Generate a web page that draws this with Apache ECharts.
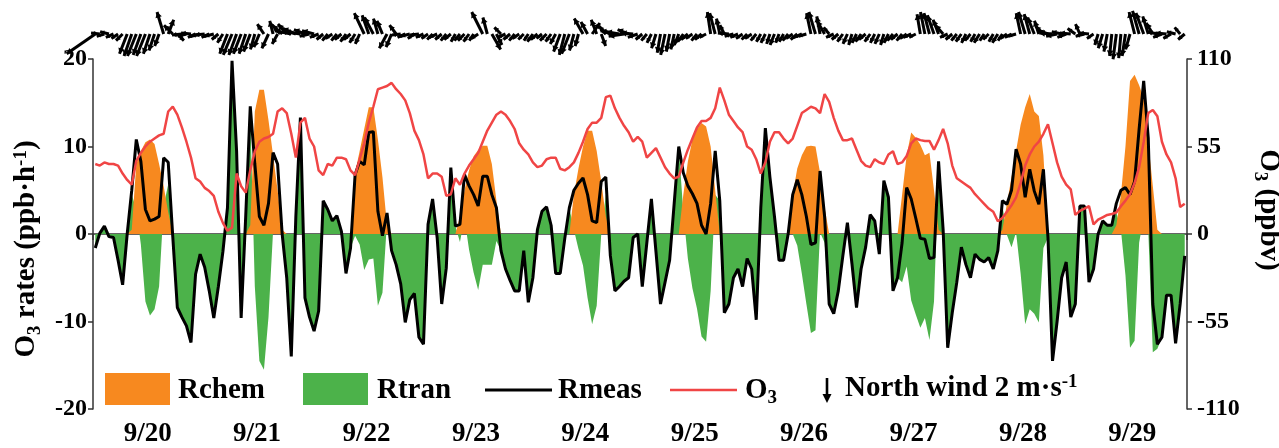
<!DOCTYPE html>
<html>
<head>
<meta charset="utf-8">
<title>O3 budget 9/20 - 9/29</title>
<script src="https://cdn.jsdelivr.net/npm/echarts/dist/echarts.min.js"></script>
<style>
html, body { margin: 0; padding: 0; background: #fff; }
#main { width: 1279px; height: 448px; }
</style>
</head>
<body>
<div id="main"></div>
<script>
// day labels (one band of 24 hours each)
var days = ['9/20', '9/21', '9/22', '9/23', '9/24', '9/25', '9/26', '9/27', '9/28', '9/29'];

// hourly values, one row per day (ppb/h)
var rmeas = [
  -1.6, 0.1, 0.9, -0.3, -0.4, -3.0, -5.8, 0, 5, 10.8, 8.3, 2.8, 1.5, 1.7, 2.0, 8.7, 8.2, -0.3, -8.4, -9.5, -10.5, -12.4, -4.6, -2.3,
  -3.8, -6.5, -9.6, -6, -2, 3, 19.8, 9.5, -9.6, 2, 14.6, 8, 2, 1, 3.5, 9.3, 8, 0, -5, -14, 2, 13.3, -7.3, -9.5,
  -11.1, -8.8, 3.8, 2.8, 1.5, 2.1, 0.3, -4.5, -1.6, 6.8, 8.3, 7.9, 11.6, 11.7, 2.6, -0.2, 2.4, -1.9, -3.5, -5.7, -10.1, -7.5, -6.8, -11.8,
  -12.6, 1.1, 4, -0.4, -8, -3.9, 7.6, 0.9, 1.1, 6.8, 5.5, 4.5, 3.2, 6.6, 6.6, 4.5, 3, -1.9, -4, -5.3, -6.5, -6.5, -1.9, -7.8,
  -5, 0.5, 2.6, 3.1, 1, -4.5, -4.5, -0.5, 3, 5, 5.8, 6.4, 4.5, 1.5, 1.3, 6, 6.5, -2.5, -6.5, -6, -5.4, -5, -0.4, 0,
  -6, -1, 4, -2, -8, -5.5, -3, 3.5, 10, 7, 5.5, 4.6, 3.5, 1, 0, 3.5, 9.5, 3.8, -9, -8, -5, -4, -6, -2.8,
  -4, -9.8, 3, 12.1, 6.5, 2, -3, -3, 0, 4.5, 6.2, 4.5, 2, -1.2, -1, 7.2, 2, -8, -9.1, -6.5, -2.5, 1.3, -3.4, -8.4,
  -4, -1.5, 2.2, 1.5, -2.3, 6.1, 4.2, -6.5, -5, -1, 5.3, 4, 1.8, -0.5, -0.6, -2.8, -2.7, 8.3, 0.5, -13, -9, -5.5, -1.5, -3.5,
  -5, -2.3, -2.9, -3.2, -2.7, -4, -1.9, 3.8, 3.4, 5, 9.7, 8, 4.2, 7.4, 4.9, 3.4, 7.4, -0.4, -14.5, -10, -5, -3.2, -9.5, -8,
  3.2, 3.2, -5.5, -4, 0, 1.5, 1, 1, 3.5, 5, 5.3, 4.5, 6, 12, 17.5, 11, -8, -12.6, -11.8, -7, -7, -12.5, -8, -2.5
];

var rchem = [
  0, 0, 0, 0, 0, 0, 0, 0, 0.5, 8, 9.5, 10.5, 10.8, 10.3, 8, 5.5, 2.5, 0, 0, 0, 0, 0, 0, 0,
  0, 0, 0, 0, 0, 0, 0, 0, 0, 0, 1, 14, 16.5, 16.5, 13, 9, 5, 0.5, 0, 0, 0, 0, 0, 0,
  0, 0, 0, 0, 0, 0, 0, 0, 0, 7, 9.5, 12, 14.5, 14.5, 10.8, 6.5, 1, 0, 0, 0, 0, 0, 0, 0,
  0, 0, 0, 0, 0, 0, 0, 0, 2, 5, 7.3, 8.9, 9.6, 10.1, 10.1, 8, 3.8, 0, 0, 0, 0, 0, 0, 0,
  0, 0, 0, 0, 0, 0, 0, 0, 0, 4.5, 7.5, 10, 11.8, 11.8, 9.5, 6, 2, 0, 0, 0, 0, 0, 0, 0,
  0, 0, 0, 0, 0, 0, 0, 0, 0, 4.5, 8.3, 10.8, 12, 12.7, 12.3, 10, 5, 0, 0, 0, 0, 0, 0, 0,
  0, 0, 0, 0, 0, 0, 0, 0, 0, 4.5, 7.5, 9, 10, 10.1, 10, 7, 3, 0, 0, 0, 0, 0, 0, 0,
  0, 0, 0, 0, 0, 0, 0, 0, 0, 4.5, 9, 11.6, 11, 10.2, 9, 9.3, 5, 0.5, 0, 0, 0, 0, 0, 0,
  0, 0, 0, 0, 0, 0, 0, 0.5, 3.5, 6.5, 9.5, 12.5, 14.5, 16, 14, 13.5, 9, 0, 0, 0, 0, 0, 0, 0,
  0, 0, 0, 0, 0, 0, 0, 0, 1, 4.5, 10, 17.5, 18.2, 17, 15.5, 10.5, 5.5, 0.5, 0, 0, 0, 0, 0, 0
];

var rtran = [
  -1.6, 0.1, 0.9, -0.3, -0.4, -3.0, -5.8, 0, 4.5, 2.8, -1.2, -7.7, -9.3, -8.6, -6, 3.2, 5.7, -0.3, -8.4, -9.5, -10.5, -12.4, -4.6, -2.3,
  -3.8, -6.5, -9.6, -6, -2, 3, 19.8, 9.5, -9.6, 2, 13.6, -6, -14.5, -15.5, -9.5, 0.3, 3, -0.5, -5, -14, 2, 13.3, -7.3, -9.5,
  -11.1, -8.8, 3.8, 2.8, 1.5, 2.1, 0.3, -4.5, -1.6, -0.2, -1.2, -4.1, -2.9, -2.8, -8.2, -6.7, 1.4, -1.9, -3.5, -5.7, -10.1, -7.5, -6.8, -11.8,
  -12.6, 1.1, 4, -0.4, -8, -3.9, 7.6, 0.9, -0.9, 1.8, -1.8, -4.4, -6.4, -3.5, -3.5, -3.5, -0.8, -1.9, -4, -5.3, -6.5, -6.5, -1.9, -7.8,
  -5, 0.5, 2.6, 3.1, 1, -4.5, -4.5, -0.5, 3, 0.5, -1.7, -3.6, -7.3, -10.3, -8.2, 0, 4.5, -2.5, -6.5, -6, -5.4, -5, -0.4, 0,
  -6, -1, 4, -2, -8, -5.5, -3, 3.5, 10, 2.5, -2.8, -6.2, -8.5, -11.7, -12.3, -6.5, 4.5, 3.8, -9, -8, -5, -4, -6, -2.8,
  -4, -9.8, 3, 12.1, 6.5, 2, -3, -3, 0, 0, -1.3, -4.5, -8, -11.3, -11, 0.2, -1, -8, -9.1, -6.5, -2.5, 1.3, -3.4, -8.4,
  -4, -1.5, 2.2, 1.5, -2.3, 6.1, 4.2, -6.5, -5, -5.5, -3.7, -7.6, -9.2, -10.7, -9.6, -12.1, -7.7, 7.8, 0.5, -13, -9, -5.5, -1.5, -3.5,
  -5, -2.3, -2.9, -3.2, -2.7, -4, -1.9, 3.3, -0.1, -1.5, 0.2, -4.5, -10.3, -8.6, -9.1, -10.1, -1.6, -0.4, -14.5, -10, -5, -3.2, -9.5, -8,
  3.2, 3.2, -5.5, -4, 0, 1.5, 1, 1, 2.5, 0.5, -4.7, -13, -12.2, -1, 2, 0.5, -13.5, -13.1, -11.8, -7, -7, -12.5, -8, -2.5
];

// O3 mixing ratio (ppbv)
var o3 = [
  44, 43, 45, 44, 44, 43, 38, 34, 31, 46, 51, 55, 58, 60, 62, 63, 77, 80, 75, 67, 58, 48, 35, 33,
  29, 27, 24, 14, 7, 2, 4, 38, 30, 26, 40, 52, 58, 60, 61, 63, 77, 79, 76, 63, 48, 70, 73, 60,
  55, 40, 37, 44, 43, 48, 48, 47, 40, 37, 47, 57, 70, 80, 91, 92, 93, 95, 91, 88, 84, 76, 65, 59,
  50, 35, 38, 38, 36, 24, 25, 35, 31, 38, 43, 47, 51, 58, 65, 70, 75, 77, 75, 71, 66, 57, 53, 50,
  45, 42, 43, 47, 48, 48, 41, 40, 42, 45, 51, 58, 66, 70, 70, 73, 86, 87, 79, 73, 68, 64, 58, 61,
  58, 48, 51, 54, 48, 42, 38, 35, 36, 45, 53, 60, 67, 71, 71, 73, 79, 92, 84, 75, 71, 67, 64, 55,
  53, 47, 38, 45, 58, 64, 64, 60, 57, 60, 68, 76, 78, 80, 79, 76, 88, 83, 73, 65, 59, 59, 60, 53,
  46, 43, 42, 47, 45, 44, 50, 52, 44, 45, 49, 57, 60, 59, 58.5, 58.5, 53, 59, 66, 57, 43, 35, 33, 31,
  29, 25, 22, 19, 16, 14, 8, 10, 14, 18, 23, 32, 43, 50, 55, 58, 63, 69, 57, 45, 36, 31, 28, 12,
  14.5, 16, 17.5, 6, 9, 10.5, 12, 12.6, 13.5, 17.5, 21, 25, 32, 42, 58, 76, 78, 74, 58, 50, 45, 35, 17, 19
];

// hourly wind vector (m/s): east component and north component
var windU = [
  -2.6, -0.8, -0.7, -0.8, -0.7, -0.6, -0.6, -0.7, -0.7, -0.8, -0.7, -0.8, -0.6, -0.5, -0.4, -0.6, 0.5, -0.8, 0.6, -0.9, -0.8, -0.9, -0.7, -0.8,
  -0.9, -0.7, -0.8, -0.6, -0.5, -0.7, -0.8, -0.7, -0.7, -0.6, -0.6, -0.4, -0.5, -0.6, -0.6, -0.3, -0.5, -0.9, -0.8, -1.5, -1.2, -1.4, -1.0, -0.9,
  -1.1, -0.8, -0.6, -0.5, -0.6, -0.5, -0.6, -0.5, -0.6, -0.5, -0.4, -0.9, -0.6, -0.8, -0.4, -0.5, -0.7, -0.5, -0.6, -0.8, -0.7, -0.8, -0.6, -0.8,
  -0.7, -0.6, -0.5, -0.7, -0.6, -0.5, -0.6, -0.4, -0.5, -0.6, -0.5, -0.4, -0.6, -1.0, -0.4, 0.8, 0.5, -0.6, -0.7, -0.6, -0.5, -0.6, -0.5, -0.4,
  -0.5, -0.6, -0.5, -0.6, -0.5, -0.5, -0.6, -0.5, -0.7, -0.4, -0.3, -0.8, -0.6, 0.7, -0.5, 0.4, -0.6, -0.7, -1.3, -1.2, -1.4, -1.0, -1.1, -0.9,
  -0.6, -0.5, -0.4, -0.4, -0.3, -0.4, -0.3, -0.3, -0.4, -0.5, -0.6, -0.6, -0.5, -0.6, -0.6, -0.3, -0.5, -0.3, -0.4, -1.0, -0.8, -0.7, -0.6, -0.5,
  -0.6, -0.5, -0.4, -0.4, -0.3, -0.4, -0.3, -0.4, -0.5, -0.6, -0.6, -0.7, -0.7, -0.4, -0.6, -0.3, -0.7, -0.5, -0.7, -0.6, -0.5, -0.4, -0.3, -0.4,
  -0.5, -0.6, -0.5, -0.4, -0.4, -0.3, -0.4, -0.5, -0.6, -0.5, -0.6, -0.7, -0.6, -0.3, -0.4, -0.5, -0.6, -0.5, -0.7, -0.7, -0.6, -0.5, -0.5, -0.4,
  -0.5, -0.4, -0.5, -0.4, -0.5, -0.4, -0.5, -0.4, -0.6, -0.6, -0.7, -0.4, -0.6, -0.5, -0.6, -0.4, -0.7, -0.8, -1.2, -1.0, -0.9, -0.8, -1.0, -0.7,
  -0.4, -0.8, -0.9, -0.6, -0.3, -0.4, -0.3, -0.2, -0.3, -0.2, -0.3, -0.4, -0.5, -0.6, -0.7, -0.5, -0.6, -0.9, -0.8, -1.0, -0.7, -0.8, -0.5, -0.6
];
var windV = [
  -1.8, 0.1, -0.2, 0.2, -0.3, -0.4, -0.6, -1.8, -2.0, -2.0, -1.9, -2.0, -1.8, -1.5, -1.1, 2.0, 1.3, 0.8, -0.6, -0.1, -0.2, 0.1, -0.3, -0.2,
  -0.1, -0.3, -0.2, -0.5, -0.8, -1.8, -1.9, -1.9, -1.8, -1.8, -1.6, -1.4, -1.2, 0.9, -1.3, 1.2, -0.9, 0.8, 0.9, 0.3, 0.5, 0.2, 0.4, -0.2,
  0.3, -0.3, -0.5, -0.6, -0.4, -0.6, -0.5, -0.7, -0.5, -0.8, -0.9, 1.9, 1.7, 1.5, 1.4, 1.2, -1.3, -1.2, 0.8, -0.1, -0.3, -0.2, -0.4, -0.1,
  -0.3, -0.4, -0.5, -0.3, -0.5, -0.6, -0.5, -0.7, -0.6, -0.6, -0.7, -0.6, -0.4, 2.0, 1.5, -1.4, -1.0, 0.6, -0.3, -0.5, -0.6, -0.4, -0.5, -0.6,
  -0.7, -0.5, -0.4, -0.6, -0.7, -0.9, -1.6, -1.9, -1.8, -1.5, -1.1, 1.4, 1.1, 1.0, 1.3, -1.1, 0.7, 0.3, 0.3, 0.2, -0.2, 0.4, 0.1, -0.3,
  -0.5, -0.6, -0.8, -1.3, -1.7, -1.9, -1.6, -1.4, -1.0, -0.7, -0.5, -0.4, -0.6, -0.5, -0.3, 2.0, 1.9, 1.4, 0.8, 0.1, -0.2, -0.3, -0.4, -0.5,
  -0.4, -0.6, -0.7, -0.8, -0.9, -1.0, -0.8, -0.7, -0.6, -0.4, -0.5, -0.3, -0.2, 1.9, 2.0, 1.6, 1.2, 0.6, -0.3, -0.5, -0.7, -0.9, -1.0, -0.8,
  -0.7, -0.5, -0.7, -0.8, -0.9, -1.0, -0.8, -0.6, -0.5, -0.6, -0.4, -0.3, -0.3, 1.8, 2.0, 1.9, 1.7, 1.3, 0.8, -0.3, -0.5, -0.6, -0.7, -0.8,
  -0.6, -0.7, -0.8, -0.6, -0.5, -0.7, -0.8, -0.6, -0.4, -0.3, -0.2, 1.9, 2.0, 1.8, 1.5, 1.2, 0.7, 0.3, 0.1, -0.2, 0.2, -0.3, 0.1, 0.5,
  0.9, -0.2, 0.1, -0.4, -1.0, -1.3, -1.6, -2.0, -2.3, -2.2, -2.0, -1.4, 2.0, 2.1, 1.9, 1.6, 1.0, 0.2, -0.3, 0.1, -0.4, 0.2, 0.6, -0.5
];

var serif = "'Liberation Serif', 'Times New Roman', serif";

function hourPairs(arr) {
  return arr.map(function (v, i) { return [i + 0.5, v]; });
}

var windData = windU.map(function (u, i) { return [i + 0.5, u, windV[i]]; });

// one arrow per hour, length taken from the wind axis scale
function renderWind(params, api) {
  var base = api.coord([api.value(0), 0]);
  var unit = api.size([0, 1])[1];
  var ex = base[0] + api.value(1) * unit;
  var ey = base[1] - api.value(2) * unit;
  var dx = ex - base[0], dy = ey - base[1];
  var len = Math.sqrt(dx * dx + dy * dy) || 1;
  var ux = dx / len, uy = dy / len;
  var h = Math.min(5.5, len * 0.45);
  var head = [
    [ex, ey],
    [ex - ux * h - uy * h * 0.6, ey - uy * h + ux * h * 0.6],
    [ex - ux * h + uy * h * 0.6, ey - uy * h - ux * h * 0.6]
  ];
  return {
    type: 'group',
    children: [
      { type: 'line', shape: { x1: base[0], y1: base[1], x2: ex, y2: ey }, style: { stroke: '#000', lineWidth: 3 } },
      { type: 'polygon', shape: { points: head }, style: { fill: '#000' } }
    ]
  };
}

var richBase = {
  a: { fontFamily: serif, fontWeight: 'bold', fontSize: 29, color: '#000', lineHeight: 34 },
  s: { fontFamily: serif, fontWeight: 'bold', fontSize: 19, color: '#000', lineHeight: 34, padding: [16, 0, 0, 0] },
  p: { fontFamily: serif, fontWeight: 'bold', fontSize: 19, color: '#000', lineHeight: 34, padding: [0, 0, 12, 0] }
};

var myChart = echarts.init(document.getElementById('main'));
myChart.setOption({
  backgroundColor: '#fff',
  animation: false,
  grid: [
    { left: 93, right: 92, top: 59, bottom: 39, outerBoundsMode: 'none' },
    { left: 93, right: 92, top: 1, height: 66, outerBoundsMode: 'none' }
  ],
  xAxis: [
    { type: 'value', gridIndex: 0, min: 0, max: 240, show: false },
    {
      type: 'category', gridIndex: 0, position: 'bottom', data: days, boundaryGap: true,
      axisLine: { lineStyle: { color: '#333', width: 1.5 } },
      axisTick: { show: true, length: 6, lineStyle: { color: '#333', width: 1.5 } },
      axisLabel: { color: '#000', fontFamily: serif, fontWeight: 'bold', fontSize: 27, margin: 12 },
      splitLine: { show: false }
    },
    { type: 'value', gridIndex: 1, min: 0, max: 240, show: false }
  ],
  yAxis: [
    {
      type: 'value', gridIndex: 0, min: -20, max: 20, interval: 10, position: 'left',
      axisLine: { show: true, lineStyle: { color: '#333', width: 1.5 } },
      axisTick: { show: true, length: 5, lineStyle: { color: '#333', width: 1.5 } },
      axisLabel: { color: '#000', fontFamily: serif, fontWeight: 'bold', fontSize: 24, margin: 6 },
      splitLine: { show: false },
      name: '{a|O}{s|3}{a| rates (ppb·h}{p|-1}{a|)}',
      nameLocation: 'middle', nameRotate: 90, nameGap: 37,
      nameTextStyle: { rich: richBase, padding: [0, 30, 0, 0] }
    },
    {
      type: 'value', gridIndex: 0, min: -110, max: 110, interval: 55, position: 'right',
      axisLine: { show: true, lineStyle: { color: '#333', width: 1.5 } },
      axisTick: { show: true, length: 5, lineStyle: { color: '#333', width: 1.5 } },
      axisLabel: { color: '#000', fontFamily: serif, fontWeight: 'bold', fontSize: 24, margin: 10 },
      splitLine: { show: false },
      name: '{a|O}{s|3}{a| (ppbv)}',
      nameLocation: 'middle', nameRotate: -90, nameGap: 53,
      nameTextStyle: { rich: richBase, padding: [0, 48, 0, 0] }
    },
    { type: 'value', gridIndex: 1, min: -3, max: 3, show: false }
  ],
  series: [
    {
      name: 'Rtran', type: 'line', xAxisIndex: 0, yAxisIndex: 0, data: hourPairs(rtran),
      symbol: 'none', lineStyle: { width: 0 }, areaStyle: { color: '#4cb24a', opacity: 1 }, z: 1
    },
    {
      name: 'Rchem', type: 'line', xAxisIndex: 0, yAxisIndex: 0, data: hourPairs(rchem),
      symbol: 'none', lineStyle: { width: 0 }, areaStyle: { color: '#f7891f', opacity: 1 }, z: 2
    },
    {
      name: 'Rmeas', type: 'line', xAxisIndex: 0, yAxisIndex: 0, data: hourPairs(rmeas),
      symbol: 'none', lineStyle: { color: '#000', width: 3 }, z: 3
    },
    {
      name: 'O3', type: 'line', xAxisIndex: 0, yAxisIndex: 1, data: hourPairs(o3),
      symbol: 'none', lineStyle: { color: '#f04545', width: 2.5 }, z: 4
    },
    {
      name: 'wind', type: 'custom', xAxisIndex: 2, yAxisIndex: 2, data: windData,
      renderItem: renderWind, z: 5
    }
  ],
  graphic: [
    { type: 'rect', left: 105, top: 373, shape: { width: 65, height: 32 }, style: { fill: '#f7891f' } },
    { type: 'text', left: 178, top: 376, style: { text: 'Rchem', fill: '#000', font: 'bold 29px ' + serif } },
    { type: 'rect', left: 303, top: 373, shape: { width: 65, height: 32 }, style: { fill: '#4cb24a' } },
    { type: 'text', left: 377, top: 376, style: { text: 'Rtran', fill: '#000', font: 'bold 29px ' + serif } },
    { type: 'line', shape: { x1: 485, y1: 390, x2: 552, y2: 390 }, style: { stroke: '#000', lineWidth: 3 } },
    { type: 'text', left: 558, top: 376, style: { text: 'Rmeas', fill: '#000', font: 'bold 29px ' + serif } },
    { type: 'line', shape: { x1: 670, y1: 390, x2: 737, y2: 390 }, style: { stroke: '#f04545', lineWidth: 2.5 } },
    {
      type: 'text', left: 745, top: 373,
      style: { text: '{a|O}{s|3}', rich: richBase }
    },
    { type: 'line', shape: { x1: 827, y1: 378, x2: 827, y2: 396 }, style: { stroke: '#000', lineWidth: 2.6 } },
    { type: 'polygon', shape: { points: [[827, 403], [822.5, 394], [831.5, 394]] }, style: { fill: '#000' } },
    {
      type: 'text', left: 845, top: 373,
      style: { text: '{a|North wind 2 m·s}{p|-1}', rich: richBase }
    }
  ]
});
</script>
</body>
</html>
